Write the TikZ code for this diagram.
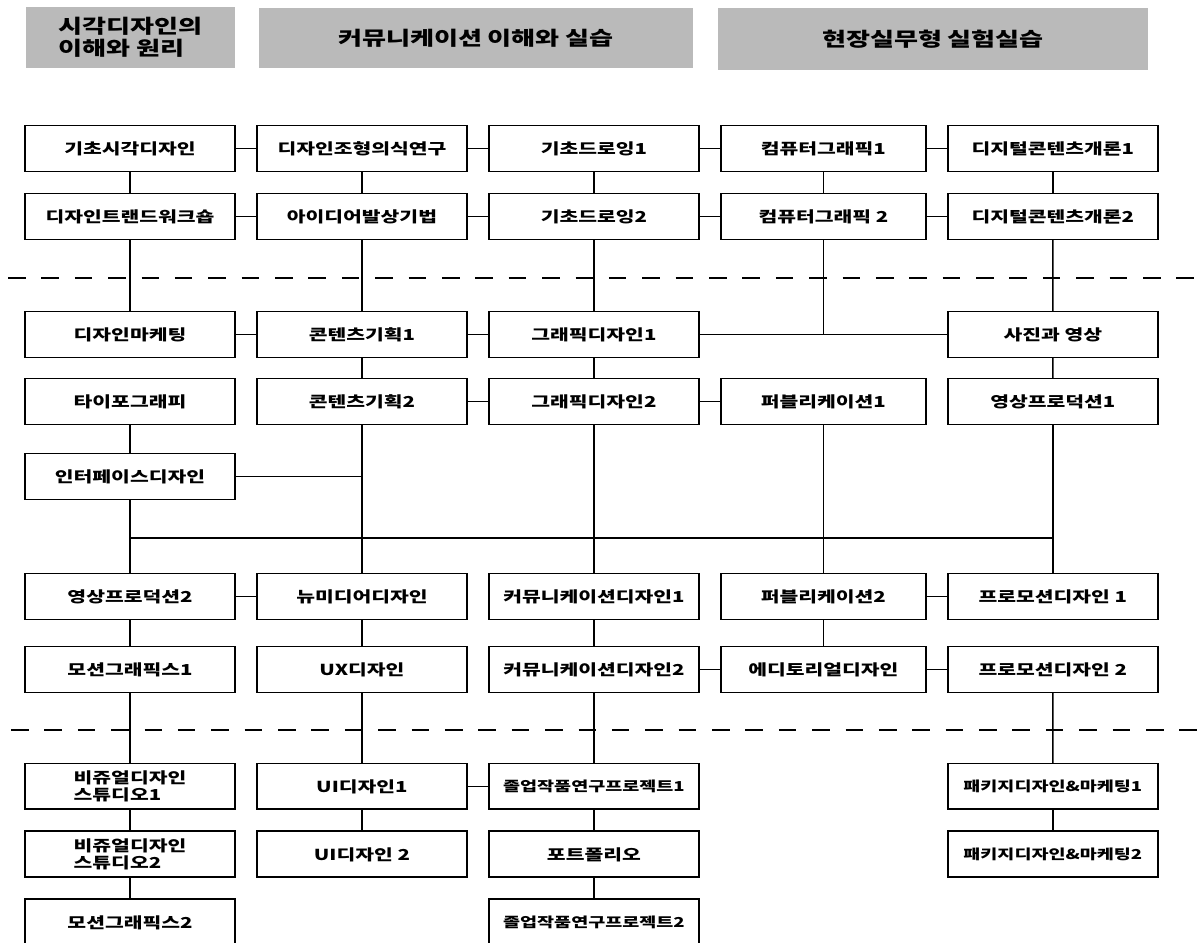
\documentclass[tikz,border=0pt]{standalone}
\usepackage{fontspec}
\setmainfont{Noto Sans CJK KR}[FakeStretch=1.35]
\usepackage{tikz}
\usetikzlibrary{positioning}

\begin{document}
\begin{tikzpicture}[x=0.02cm, y=-0.02cm, line width=0.9pt, node distance=0.44cm,
  box/.style={draw, rectangle, line width=1pt, outer sep=0pt, minimum width=4.2cm, minimum height=0.92cm, inner xsep=1pt, align=left, font=\fontsize{8.6}{9.8}\selectfont\bfseries},
  boxd/.style={box, minimum width=4.1cm},
  smallbox/.style={box, font=\fontsize{7.8}{9}\selectfont\bfseries},
  head/.style={fill=black!27, inner sep=0pt, align=left, font=\fontsize{11}{12.6}\selectfont\bfseries},
  sep/.style={line width=1.5pt, dash pattern=on 10pt off 9pt}]

\useasboundingbox (0,0) rectangle (1200,943);

\node[head, minimum width=4.18cm, minimum height=1.22cm] (Vis)  at (130.5,37.5) {시각디자인의\\이해와 원리};
\node[head, minimum width=8.68cm, minimum height=1.2cm]  (Com)  at (476,38)     {커뮤니케이션 이해와 실습};
\node[head, minimum width=8.6cm,  minimum height=1.24cm] (Prac) at (933,39)     {현장실무형 실험실습};

\node[box]  (1A) at (130,148.5)  {기초시각디자인};
\node[box]  (1B) [right=of 1A]   {디자인조형의식연구};
\node[box]  (1C) [right=of 1B]   {기초드로잉1};
\node[boxd] (1D) [right=of 1C]   {컴퓨터그래픽1};
\node[box]  (1E) [right=of 1D]   {디지털콘텐츠개론1};

\node[box]  (2A) [below=of 1A]   {디자인트랜드워크숍};
\node[box]  (2B) [right=of 2A]   {아이디어발상기법};
\node[box]  (2C) [right=of 2B]   {기초드로잉2};
\node[boxd] (2D) [right=of 2C]   {컴퓨터그래픽 2};
\node[box]  (2E) [right=of 2D]   {디지털콘텐츠개론2};

\node[box]  (3A) [below=1.44cm of 2A] {디자인마케팅};
\node[box]  (3B) [right=of 3A]   {콘텐츠기획1};
\node[box]  (3C) [right=of 3B]   {그래픽디자인1};
\node[box]  (3E) [right=4.98cm of 3C] {사진과 영상};

\node[box]  (4A) [below=0.42cm of 3A] {타이포그래피};
\node[box]  (4B) [right=of 4A]   {콘텐츠기획2};
\node[box]  (4C) [right=of 4B]   {그래픽디자인2};
\node[boxd] (4D) [right=of 4C]   {퍼블리케이션1};
\node[box]  (4E) [right=of 4D]   {영상프로덕션1};

\node[box]  (5A) [below=0.58cm of 4A] {인터페이스디자인};

\node[box]  (6A) [below=1.48cm of 5A] {영상프로덕션2};
\node[box]  (6B) [right=of 6A]   {뉴미디어디자인};
\node[box]  (6C) [right=of 6B]   {커뮤니케이션디자인1};
\node[boxd] (6D) [right=of 6C]   {퍼블리케이션2};
\node[box]  (6E) [right=of 6D]   {프로모션디자인 1};

\node[box]  (7A) [below=0.54cm of 6A] {모션그래픽스1};
\node[box]  (7B) [right=of 7A]   {UX디자인};
\node[box]  (7C) [right=of 7B]   {커뮤니케이션디자인2};
\node[boxd] (7D) [right=of 7C]   {에디토리얼디자인};
\node[box]  (7E) [right=of 7D]   {프로모션디자인 2};

\node[box]      (8A) [below=1.42cm of 7A] {비쥬얼디자인\\스튜디오1};
\node[box]      (8B) [right=of 8A]   {UI디자인1};
\node[smallbox] (8C) [right=of 8B]   {졸업작품연구프로젝트1};
\node[smallbox] (8E) [right=4.98cm of 8C] {패키지디자인\&마케팅1};

\node[box]      (9A) [below=of 8A]   {비쥬얼디자인\\스튜디오2};
\node[box]      (9B) [right=of 9A]   {UI디자인 2};
\node[box]      (9C) [right=of 9B]   {포트폴리오};
\node[smallbox] (9E) [right=4.98cm of 9C] {패키지디자인\&마케팅2};

\node[box]      (10A) [below=of 9A]  {모션그래픽스2};
\node[smallbox] (10C) [below=of 9C]  {졸업작품연구프로젝트2};

\coordinate (bus) at (0,538);

\draw[sep] (8,278) -- (1200,278);
\draw[sep] (11,730) -- (1200,730);

\path(1A) edge (1B);
\path(1B) edge (1C);
\path(1C) edge (1D);
\path(1D) edge (1E);

\path(2A) edge (2B);
\path(2B) edge (2C);
\path(2C) edge (2D);
\path(2D) edge (2E);

\path(1A) edge (2A);
\path(1B) edge (2B);
\path(1C) edge (2C);
\path(1D) edge (2D);
\path(1E) edge (2E);

\path(2A) edge (3A);
\path(2B) edge (3B);
\path(2C) edge (3C);
\draw (2D.south) -- (2D.south |- 3C.east);
\path(2E) edge (3E);

\path(3A) edge (3B);
\path(3B) edge (3C);
\path(3C) edge (3E);

\path(3B) edge (4B);
\path(3C) edge (4C);
\path(3E) edge (4E);

\path(4B) edge (4C);
\path(4C) edge (4D);

\path(4A) edge (5A);
\draw (5A.east) -- (5A.east -| 4B.south);

\draw (bus -| 5A.south) -- (bus -| 4E.south);
\path(5A) edge (6A);
\path(4B) edge (6B);
\path(4C) edge (6C);
\path(4D) edge (6D);
\path(4E) edge (6E);

\path(6A) edge (6B);
\path(6D) edge (6E);

\path(6A) edge (7A);
\path(6B) edge (7B);
\path(6C) edge (7C);
\path(6D) edge (7D);

\path(7C) edge (7D);
\path(7D) edge (7E);

\path(7A) edge (8A);
\path(7B) edge (8B);
\path(7C) edge (8C);
\path(7E) edge (8E);

\path(8B) edge (8C);

\path(8A) edge (9A);
\path(8B) edge (9B);
\path(8C) edge (9C);
\path(8E) edge (9E);

\path(9A) edge (10A);
\path(9C) edge (10C);

\end{tikzpicture}
\end{document}
